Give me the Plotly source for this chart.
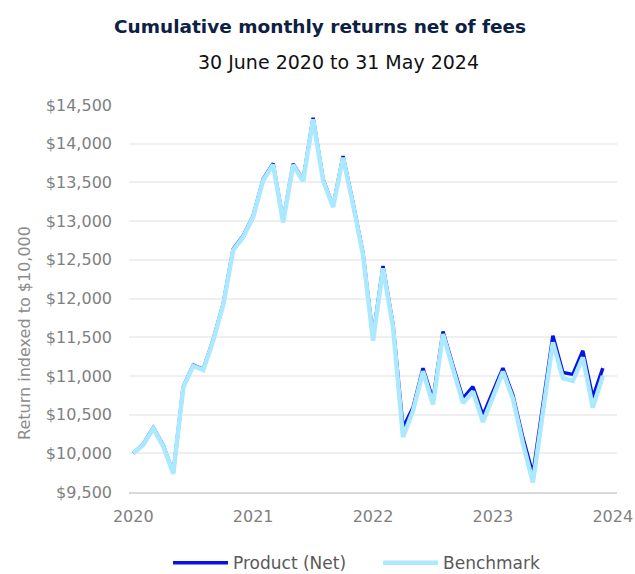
import plotly.graph_objects as go

# Month index from 30 June 2020 (0) to 31 May 2024 (47)
months = list(range(48))

product = [10000, 10120, 10330, 10100, 9745, 10860, 11140, 11085, 11470, 11930,
           12640, 12810, 13070, 13540, 13745, 13000, 13740, 13530, 14335, 13540,
           13195, 13840, 13230, 12580, 11500, 12420, 11660, 10330, 10590, 11100,
           10690, 11575, 11130, 10710, 10860, 10490, 10795, 11100, 10750, 10200,
           9730, 10630, 11520, 11045, 11020, 11325, 10720, 11100]

benchmark = [10000, 10110, 10320, 10090, 9735, 10850, 11130, 11075, 11455, 11915,
             12625, 12795, 13055, 13525, 13730, 12985, 13725, 13515, 14315, 13525,
             13180, 13820, 13210, 12560, 11455, 12390, 11630, 10210, 10550, 11060,
             10630, 11540, 11090, 10650, 10800, 10405, 10730, 11055, 10705, 10130,
             9625, 10580, 11435, 10970, 10935, 11240, 10590, 11000]

year_ticks = [0, 12, 24, 36, 48]
year_labels = ["2020", "2021", "2022", "2023", "2024"]

FONT = "DejaVu Sans, sans-serif"

fig = go.Figure()
fig.add_trace(go.Scatter(x=months, y=product, mode="lines", name="Product (Net)",
                         line=dict(color="#0514e4", width=3.5)))
fig.add_trace(go.Scatter(x=months, y=benchmark, mode="lines", name="Benchmark",
                         line=dict(color="#aae9ff", width=4.5)))

fig.update_layout(
    width=635, height=574,
    margin=dict(l=129, r=18, t=105, b=82, autoexpand=False),
    paper_bgcolor="white", plot_bgcolor="white",
    font=dict(family=FONT, color="#808080", size=15),
    title=dict(text="<b>Cumulative monthly returns net of fees</b>",
               x=0.504, xanchor="center", y=0.953, yanchor="middle",
               font=dict(family=FONT, size=18.5, color="#0d2142")),
    showlegend=True,
    legend=dict(orientation="h", x=0.08, xanchor="left", y=-0.184, yanchor="middle",
                font=dict(family=FONT, size=17, color="#595959"),
                itemwidth=55, entrywidth=140, tracegroupgap=0),
    annotations=[
        dict(text="30 June 2020 to 31 May 2024", xref="paper", yref="paper",
             x=0.43, y=1.11, xanchor="center", yanchor="middle", showarrow=False,
             font=dict(family=FONT, size=19, color="#111111")),
        dict(text="Return indexed to $10,000", xref="paper", yref="paper",
             x=-0.214, y=0.41, xanchor="center", yanchor="middle", showarrow=False,
             textangle=-90, font=dict(family=FONT, size=16, color="#8c8c8c")),
    ],
)

fig.update_xaxes(range=[-0.43, 48.42], tickvals=year_ticks, ticktext=year_labels,
                 showgrid=False, zeroline=False, showline=True, linecolor="#d9d9d9",
                 linewidth=1.5, ticks="", ticklabelstandoff=9,
                 tickfont=dict(family=FONT, size=16, color="#808080"))
fig.update_yaxes(range=[9500, 14500], dtick=500, tickprefix="$", tickformat=",",
                 showgrid=True, gridcolor="#efefef", gridwidth=1.5, zeroline=False,
                 showline=False, ticks="", ticklabelstandoff=16,
                 tickfont=dict(family=FONT, size=16, color="#808080"))

fig.write_html("out.html")
